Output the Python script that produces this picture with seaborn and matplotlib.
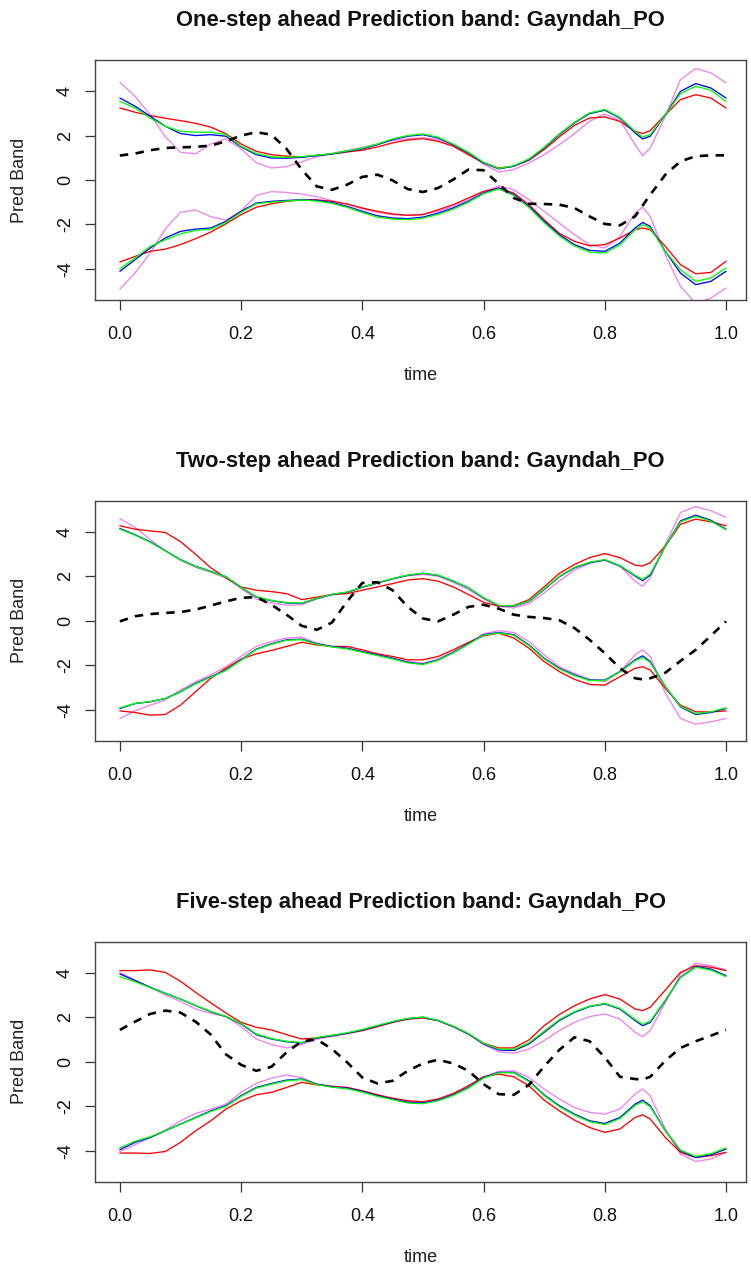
import matplotlib
matplotlib.use("Agg")
import matplotlib.pyplot as plt
import seaborn as sns
import pandas as pd

# ---------------- data ----------------
time = [0.0, 0.025, 0.05, 0.075, 0.1, 0.125, 0.15, 0.175, 0.2, 0.225,
        0.25, 0.275, 0.3, 0.325, 0.35, 0.375, 0.4, 0.425, 0.45, 0.475,
        0.5, 0.525, 0.55, 0.575, 0.6, 0.625, 0.65, 0.675, 0.7, 0.725,
        0.75, 0.775, 0.8, 0.825, 0.85, 0.8625, 0.875, 0.9, 0.925, 0.95,
        0.975, 1.0]

titles = ["One-step ahead Prediction band: Gayndah_PO",
          "Two-step ahead Prediction band: Gayndah_PO",
          "Five-step ahead Prediction band: Gayndah_PO"]
x_ticks = [0.0, 0.2, 0.4, 0.6, 0.8, 1.0]
x_tick_labels = ["0.0", "0.2", "0.4", "0.6", "0.8", "1.0"]
y_ticks = [-4, -2, 0, 2, 4]
y_tick_labels = ["-4", "-2", "0", "2", "4"]

# Panel 1 (one-step)
p1_blue_up = [3.69,3.32,2.87,2.42,2.09,2.00,2.04,1.97,1.49,1.14,0.99,0.98,1.02,1.10,1.17,1.29,1.40,1.59,1.82,1.97,2.04,
              1.89,1.59,1.22,0.77,0.50,0.62,0.92,1.44,2.04,2.57,2.99,3.14,2.79,2.12,1.85,1.97,2.94,3.99,4.34,4.14,3.69]
p1_green_up = [3.54,3.24,2.79,2.42,2.19,2.15,2.15,2.04,1.52,1.19,1.04,1.02,1.05,1.12,1.19,1.31,1.43,1.62,1.85,2.00,2.07,
               1.92,1.62,1.25,0.80,0.52,0.64,0.95,1.47,2.07,2.60,3.02,3.17,2.82,2.19,1.94,2.04,2.94,3.89,4.22,4.04,3.54]
p1_red_up = [3.24,3.05,2.90,2.78,2.67,2.55,2.38,2.08,1.62,1.29,1.14,1.07,1.04,1.10,1.17,1.26,1.34,1.49,1.67,1.80,1.86,
             1.74,1.52,1.14,0.77,0.54,0.62,0.89,1.37,1.94,2.46,2.79,2.84,2.64,2.19,2.09,2.22,2.94,3.62,3.84,3.69,3.24]
p1_violet_up = [4.40,3.77,2.94,1.95,1.25,1.18,1.62,1.85,1.40,0.78,0.54,0.60,0.82,1.05,1.20,1.33,1.47,1.62,1.77,1.86,1.90,
                1.82,1.55,1.19,0.72,0.36,0.47,0.77,1.14,1.59,2.09,2.64,2.97,2.69,1.59,1.10,1.44,2.87,4.52,5.02,4.82,4.37]
p1_blue_lo = [-4.11,-3.59,-3.06,-2.61,-2.31,-2.21,-2.16,-1.86,-1.41,-1.04,-0.96,-0.92,-0.89,-0.92,-1.01,-1.19,-1.41,-1.61,-1.71,-1.74,-1.67,
              -1.49,-1.26,-0.96,-0.59,-0.36,-0.66,-1.19,-1.86,-2.46,-2.91,-3.17,-3.21,-2.84,-2.16,-1.91,-2.09,-3.21,-4.19,-4.71,-4.56,-4.11]
p1_green_lo = [-4.00,-3.51,-2.99,-2.69,-2.42,-2.27,-2.21,-1.91,-1.46,-1.07,-0.99,-0.95,-0.90,-0.95,-1.05,-1.23,-1.46,-1.67,-1.76,-1.78,-1.72,
               -1.55,-1.31,-1.00,-0.62,-0.40,-0.70,-1.24,-1.92,-2.52,-2.97,-3.25,-3.29,-2.92,-2.24,-2.01,-2.16,-3.21,-4.04,-4.56,-4.41,-3.96]
p1_red_lo = [-3.69,-3.44,-3.21,-3.11,-2.91,-2.64,-2.34,-1.97,-1.56,-1.23,-1.07,-0.96,-0.89,-0.89,-0.96,-1.08,-1.26,-1.41,-1.53,-1.59,-1.56,
             -1.34,-1.11,-0.81,-0.51,-0.36,-0.59,-1.11,-1.79,-2.40,-2.76,-2.96,-2.91,-2.61,-2.24,-2.16,-2.24,-2.99,-3.81,-4.22,-4.16,-3.66]
p1_violet_lo = [-4.91,-4.19,-3.29,-2.20,-1.45,-1.35,-1.65,-1.80,-1.40,-0.70,-0.52,-0.56,-0.63,-0.75,-0.93,-1.10,-1.30,-1.46,-1.56,-1.58,-1.53,
                -1.41,-1.19,-0.89,-0.56,-0.26,-0.44,-0.89,-1.41,-1.94,-2.46,-2.91,-3.06,-2.54,-1.49,-1.22,-1.64,-3.36,-4.79,-5.55,-5.32,-4.86]
p1_dash = [1.10,1.19,1.34,1.44,1.47,1.49,1.55,1.74,2.00,2.15,2.04,1.40,0.47,-0.29,-0.44,-0.21,0.14,0.24,-0.02,-0.41,-0.54,
           -0.36,0.02,0.47,0.44,-0.17,-0.81,-1.07,-1.08,-1.11,-1.26,-1.64,-1.98,-2.04,-1.64,-1.15,-0.66,0.24,0.84,1.07,1.11,1.11]

# Panel 2 (two-step)
p2_blue_up = [4.15,3.87,3.55,3.15,2.75,2.45,2.22,1.98,1.50,1.07,0.90,0.80,0.78,1.00,1.18,1.28,1.51,1.70,1.89,2.04,2.13,
              2.04,1.78,1.48,1.03,0.68,0.65,0.87,1.40,1.98,2.38,2.61,2.73,2.46,2.01,1.80,2.05,3.36,4.49,4.75,4.52,4.12]
p2_green_up = [4.12,3.85,3.53,3.14,2.74,2.44,2.21,1.98,1.51,1.08,0.91,0.81,0.79,1.01,1.19,1.29,1.52,1.71,1.90,2.05,2.14,
               2.05,1.79,1.49,1.04,0.69,0.66,0.89,1.42,2.00,2.40,2.63,2.75,2.48,2.04,1.86,2.10,3.36,4.45,4.70,4.48,4.10]
p2_red_up = [4.27,4.12,4.04,3.97,3.56,2.99,2.38,1.93,1.52,1.37,1.31,1.22,0.95,1.06,1.18,1.22,1.37,1.52,1.67,1.83,1.89,
             1.78,1.52,1.18,0.83,0.65,0.68,0.95,1.52,2.13,2.53,2.84,3.02,2.84,2.50,2.46,2.61,3.36,4.34,4.57,4.45,4.27]
p2_violet_up = [4.60,4.20,3.65,3.15,2.72,2.40,2.18,1.92,1.45,0.98,0.80,0.70,0.72,0.98,1.16,1.27,1.50,1.68,1.87,2.02,2.08,
                2.00,1.73,1.40,0.98,0.65,0.57,0.77,1.25,1.78,2.28,2.58,2.73,2.46,1.78,1.55,1.93,3.44,4.87,5.14,4.95,4.65]
p2_blue_lo = [-3.95,-3.73,-3.65,-3.50,-3.20,-2.82,-2.52,-2.22,-1.76,-1.28,-1.04,-0.86,-0.83,-1.04,-1.16,-1.24,-1.39,-1.54,-1.69,-1.87,-1.95,
              -1.76,-1.43,-1.04,-0.63,-0.53,-0.63,-1.09,-1.69,-2.14,-2.44,-2.67,-2.67,-2.29,-1.76,-1.58,-1.84,-2.97,-3.88,-4.22,-4.13,-3.95]
p2_green_lo = [-3.92,-3.72,-3.64,-3.50,-3.21,-2.84,-2.54,-2.24,-1.78,-1.30,-1.06,-0.88,-0.85,-1.06,-1.18,-1.27,-1.42,-1.57,-1.72,-1.90,-1.97,
               -1.78,-1.45,-1.06,-0.65,-0.55,-0.66,-1.12,-1.72,-2.17,-2.47,-2.69,-2.69,-2.31,-1.80,-1.65,-1.88,-2.97,-3.85,-4.18,-4.10,-3.92]
p2_red_lo = [-4.06,-4.13,-4.25,-4.22,-3.80,-3.20,-2.59,-2.14,-1.73,-1.49,-1.34,-1.16,-0.97,-1.09,-1.16,-1.16,-1.31,-1.49,-1.61,-1.76,-1.76,
             -1.61,-1.31,-0.98,-0.68,-0.56,-0.78,-1.24,-1.84,-2.29,-2.64,-2.87,-2.90,-2.52,-2.14,-2.07,-2.22,-3.05,-3.80,-4.10,-4.10,-4.06]
p2_violet_lo = [-4.40,-4.06,-3.80,-3.57,-3.12,-2.75,-2.44,-2.07,-1.61,-1.16,-0.94,-0.78,-0.74,-1.01,-1.16,-1.24,-1.39,-1.54,-1.69,-1.84,-1.92,
                -1.73,-1.40,-1.01,-0.59,-0.45,-0.53,-0.94,-1.54,-2.07,-2.37,-2.64,-2.75,-2.29,-1.54,-1.31,-1.61,-3.27,-4.40,-4.66,-4.55,-4.40]
p2_dash = [-0.03,0.20,0.30,0.35,0.39,0.50,0.68,0.87,1.03,1.06,0.72,0.27,-0.23,-0.41,-0.08,0.87,1.70,1.73,1.37,0.62,0.10,
           -0.03,0.27,0.62,0.72,0.54,0.27,0.17,0.12,0.02,-0.33,-0.86,-1.46,-2.14,-2.59,-2.64,-2.59,-2.34,-1.81,-1.31,-0.68,-0.03]

# Panel 3 (five-step)
p3_blue_up = [3.95,3.65,3.35,3.08,2.82,2.52,2.25,2.03,1.70,1.22,1.02,0.90,0.84,1.07,1.17,1.28,1.43,1.61,1.79,1.94,2.00,
              1.85,1.58,1.25,0.80,0.53,0.50,0.80,1.32,1.85,2.22,2.48,2.60,2.37,1.85,1.62,1.77,2.75,3.80,4.28,4.17,3.87]
p3_green_up = [3.83,3.60,3.33,3.07,2.82,2.53,2.26,2.04,1.72,1.25,1.04,0.92,0.86,1.09,1.19,1.30,1.45,1.63,1.81,1.95,2.01,
               1.86,1.60,1.27,0.83,0.57,0.55,0.85,1.37,1.89,2.25,2.50,2.62,2.40,1.90,1.68,1.82,2.78,3.78,4.25,4.12,3.83]
p3_red_up = [4.10,4.10,4.13,4.02,3.62,3.12,2.65,2.19,1.77,1.55,1.43,1.22,1.02,1.07,1.17,1.28,1.40,1.58,1.77,1.92,1.97,
             1.85,1.58,1.25,0.83,0.62,0.62,0.98,1.62,2.12,2.52,2.82,3.02,2.82,2.37,2.30,2.45,3.23,4.02,4.32,4.25,4.10]
p3_violet_up = [4.02,3.68,3.35,3.00,2.72,2.37,2.18,2.03,1.58,1.02,0.77,0.62,0.77,1.02,1.14,1.25,1.40,1.58,1.77,1.91,1.97,
                1.85,1.58,1.25,0.77,0.45,0.38,0.57,0.95,1.40,1.77,2.03,2.15,1.92,1.32,1.13,1.40,2.67,3.95,4.43,4.32,4.13]
p3_blue_lo = [-3.96,-3.63,-3.41,-3.11,-2.81,-2.51,-2.21,-1.98,-1.53,-1.16,-0.98,-0.83,-0.78,-1.01,-1.13,-1.19,-1.34,-1.53,-1.68,-1.83,-1.86,
              -1.73,-1.49,-1.16,-0.71,-0.48,-0.48,-0.86,-1.49,-1.98,-2.36,-2.66,-2.78,-2.51,-1.91,-1.73,-1.98,-3.11,-4.01,-4.31,-4.19,-3.93]
p3_green_lo = [-3.88,-3.58,-3.38,-3.10,-2.82,-2.53,-2.24,-2.01,-1.56,-1.19,-1.01,-0.86,-0.80,-1.03,-1.15,-1.22,-1.37,-1.56,-1.71,-1.86,-1.89,
               -1.76,-1.52,-1.19,-0.74,-0.50,-0.50,-0.89,-1.52,-2.02,-2.40,-2.70,-2.83,-2.56,-1.97,-1.80,-2.03,-3.11,-3.98,-4.26,-4.14,-3.88]
p3_red_lo = [-4.11,-4.11,-4.13,-4.04,-3.63,-3.11,-2.66,-2.13,-1.76,-1.49,-1.38,-1.16,-0.93,-1.04,-1.11,-1.16,-1.31,-1.49,-1.64,-1.76,-1.80,
             -1.68,-1.43,-1.08,-0.68,-0.56,-0.68,-1.08,-1.73,-2.21,-2.63,-2.96,-3.18,-3.03,-2.51,-2.39,-2.58,-3.41,-4.08,-4.31,-4.23,-4.08]
p3_violet_lo = [-4.04,-3.74,-3.41,-3.08,-2.66,-2.33,-2.13,-1.91,-1.38,-0.98,-0.74,-0.60,-0.71,-1.01,-1.10,-1.16,-1.31,-1.49,-1.68,-1.80,-1.86,
                -1.73,-1.49,-1.16,-0.68,-0.44,-0.41,-0.71,-1.23,-1.68,-2.06,-2.28,-2.36,-2.13,-1.46,-1.23,-1.53,-3.03,-4.16,-4.49,-4.38,-4.08]
p3_dash = [1.43,1.80,2.15,2.30,2.21,1.80,1.22,0.33,-0.14,-0.41,-0.23,0.42,0.92,1.00,0.57,-0.03,-0.71,-0.98,-0.86,-0.41,-0.08,
           0.09,-0.08,-0.41,-1.01,-1.46,-1.49,-1.04,-0.21,0.53,1.10,0.92,0.20,-0.68,-0.78,-0.80,-0.68,0.05,0.62,0.92,1.17,1.43]

panels = [
    {"violet": (p1_violet_up, p1_violet_lo), "red": (p1_red_up, p1_red_lo),
     "blue": (p1_blue_up, p1_blue_lo), "green": (p1_green_up, p1_green_lo), "dash": p1_dash},
    {"violet": (p2_violet_up, p2_violet_lo), "red": (p2_red_up, p2_red_lo),
     "blue": (p2_blue_up, p2_blue_lo), "green": (p2_green_up, p2_green_lo), "dash": p2_dash},
    {"violet": (p3_violet_up, p3_violet_lo), "red": (p3_red_up, p3_red_lo),
     "blue": (p3_blue_up, p3_blue_lo), "green": (p3_green_up, p3_green_lo), "dash": p3_dash},
]

colors = {"blue": "#0000FF", "green": "#00FF00", "red": "#FF0000", "violet": "#EE82EE"}

# ---------------- styling ----------------
sns.set_theme(style="white")
plt.rcParams["font.family"] = ["Liberation Sans", "DejaVu Sans"]

W, H = 751, 1276
fig = plt.figure(figsize=(W / 100, H / 100), dpi=100)

box_left, box_right = 95, 746
box_tops = [60, 500.7, 941.7]
box_h = 240

for i, (pan, title) in enumerate(zip(panels, titles)):
    top = box_tops[i]
    ax = fig.add_axes([box_left / W, 1 - (top + box_h) / H,
                       (box_right - box_left) / W, box_h / H])
    for name in ["violet", "red", "blue", "green"]:
        up, lo = pan[name]
        for vals in (up, lo):
            df = pd.DataFrame({"time": time, "val": vals})
            sns.lineplot(data=df, x="time", y="val", ax=ax, color=colors[name],
                         linewidth=0.95, estimator=None, sort=False)
    dfd = pd.DataFrame({"time": time, "val": pan["dash"]})
    sns.lineplot(data=dfd, x="time", y="val", ax=ax, color="black",
                 linewidth=1.9, estimator=None, sort=False,
                 linestyle=(0, (3.2, 2.8)))

    ax.set_xlim(-0.041, 1.033)
    ax.set_ylim(-5.4, 5.4)
    ax.set_xticks(x_ticks)
    ax.set_xticklabels(x_tick_labels)
    ax.set_yticks(y_ticks)
    ax.set_yticklabels(y_tick_labels, rotation=90, va="center")
    ax.tick_params(axis="both", direction="out", length=7.2, width=0.9,
                   color="#333333", labelsize=13, labelcolor="#111111")
    ax.tick_params(axis="x", pad=11.5, bottom=True)
    ax.tick_params(axis="y", pad=8, left=True)
    for sp in ax.spines.values():
        sp.set_visible(True)
        sp.set_color("#444444")
        sp.set_linewidth(1.0)
    ax.set_xlabel("time", fontsize=13, va="center", color="#222222")
    ax.xaxis.set_label_coords(0.5, -76 / box_h)
    ax.set_ylabel("Pred Band", fontsize=13, va="center", color="#222222")
    ax.yaxis.set_label_coords(-75 / (box_right - box_left), 0.5)
    ax.text(0.5, 1 + 34 / box_h, title, transform=ax.transAxes,
            ha="center", va="baseline", fontsize=15.8, fontweight="bold",
            color="#111111")

fig.savefig("out.png", dpi=100, facecolor="white")
